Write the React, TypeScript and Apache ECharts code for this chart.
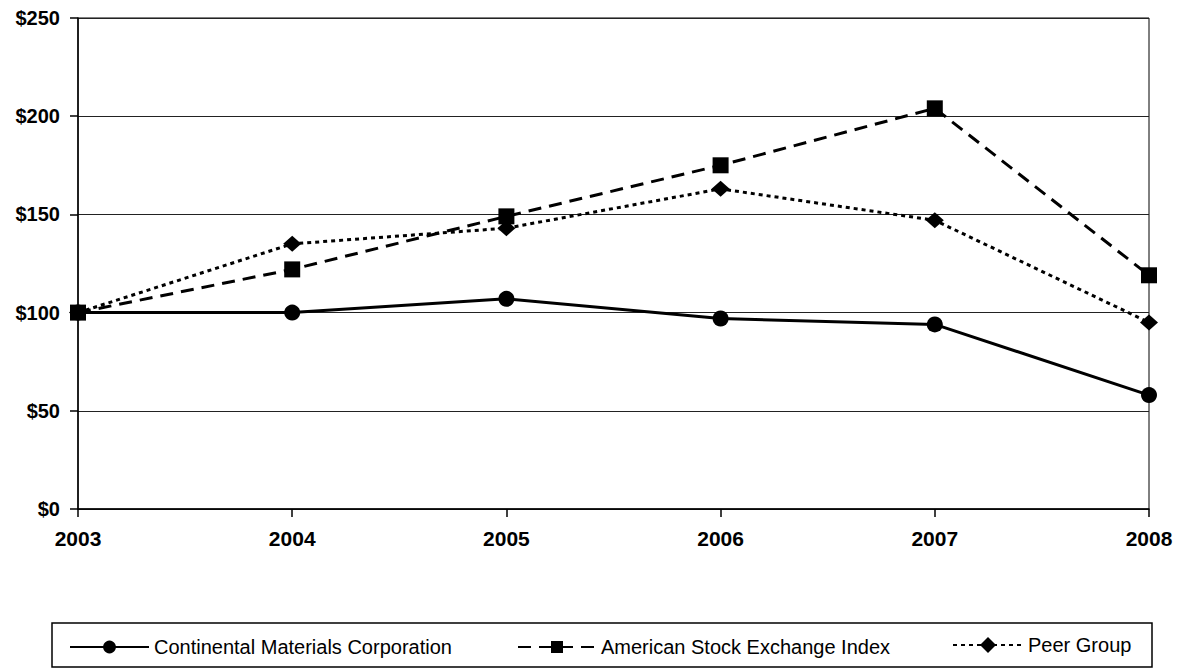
import React, { useEffect, useRef } from "react";
import * as echarts from "echarts";

const years = ["2003", "2004", "2005", "2006", "2007", "2008"];
const continental = [100, 100, 107, 97, 94, 58];
const amex = [100, 122, 149, 175, 204, 119];
const peer = [100, 135, 143, 163, 147, 95];
const yTicks = { min: 0, max: 250, interval: 50 };
const seriesNames = [
  "Continental Materials Corporation",
  "American Stock Exchange Index",
  "Peer Group",
];

const FONT = "'Liberation Sans', Arial, Helvetica, sans-serif";

export default function App() {
  const ref = useRef<HTMLDivElement>(null);
  useEffect(() => {
    if (!ref.current) return;
    const chart = echarts.init(ref.current, undefined, { renderer: "svg" });
    const legendText = { color: "#000", fontSize: 20, fontFamily: FONT };
    chart.setOption({
      animation: false,
      backgroundColor: "#fff",
      grid: {
        left: 78,
        right: 30,
        top: 18,
        bottom: 160,
        show: true,
        borderColor: "#000",
        borderWidth: 1,
      },
      xAxis: {
        type: "category",
        data: years,
        boundaryGap: false,
        axisLine: { lineStyle: { color: "#000", width: 1.5 } },
        axisTick: { show: true, length: 8, lineStyle: { color: "#000", width: 1.5 } },
        axisLabel: {
          color: "#000",
          fontSize: 21,
          fontWeight: "bold",
          fontFamily: FONT,
          margin: 19,
        },
        splitLine: { show: false },
      },
      yAxis: {
        type: "value",
        min: yTicks.min,
        max: yTicks.max,
        interval: yTicks.interval,
        axisLine: { show: true, lineStyle: { color: "#000", width: 1.5 } },
        axisTick: { show: true, length: 8, lineStyle: { color: "#000", width: 1.5 } },
        axisLabel: {
          color: "#000",
          fontSize: 20,
          fontWeight: "bold",
          fontFamily: FONT,
          margin: 18,
          formatter: (v: number) => "$" + v,
        },
        splitLine: { show: true, lineStyle: { color: "#222", width: 1 } },
      },
      legend: [
        {
          data: [seriesNames[0]],
          left: 69,
          top: 637,
          padding: 0,
          itemWidth: 79,
          itemHeight: 16,
          textStyle: legendText,
        },
        {
          data: [seriesNames[1]],
          left: 517,
          top: 637,
          padding: 0,
          itemWidth: 78,
          itemHeight: 15,
          textStyle: legendText,
        },
        {
          data: [seriesNames[2]],
          left: 952,
          top: 635,
          padding: 0,
          itemWidth: 70,
          itemHeight: 20,
          textStyle: legendText,
        },
      ],
      graphic: [
        {
          type: "rect",
          shape: { x: 52, y: 623, width: 1100, height: 44 },
          style: { fill: "none", stroke: "#000", lineWidth: 1.5 },
          silent: true,
        },
      ],
      series: [
        {
          name: seriesNames[0],
          type: "line",
          data: continental,
          z: 3,
          symbol: "circle",
          symbolSize: 16,
          lineStyle: { color: "#000", width: 3, type: "solid" },
          itemStyle: { color: "#000" },
        },
        {
          name: seriesNames[1],
          type: "line",
          data: amex,
          z: 4,
          symbol: "rect",
          symbolSize: [16, 16],
          lineStyle: { color: "#000", width: 3, type: [13, 8] },
          itemStyle: { color: "#000" },
        },
        {
          name: seriesNames[2],
          type: "line",
          data: peer,
          z: 2,
          symbol: "diamond",
          symbolSize: [18, 16],
          lineStyle: { color: "#000", width: 3, type: [4, 4] },
          itemStyle: { color: "#000" },
        },
      ],
    });
    return () => chart.dispose();
  }, []);
  return (
    <div
      ref={ref}
      style={{ position: "fixed", left: 0, top: 0, width: 1179, height: 669 }}
    />
  );
}
